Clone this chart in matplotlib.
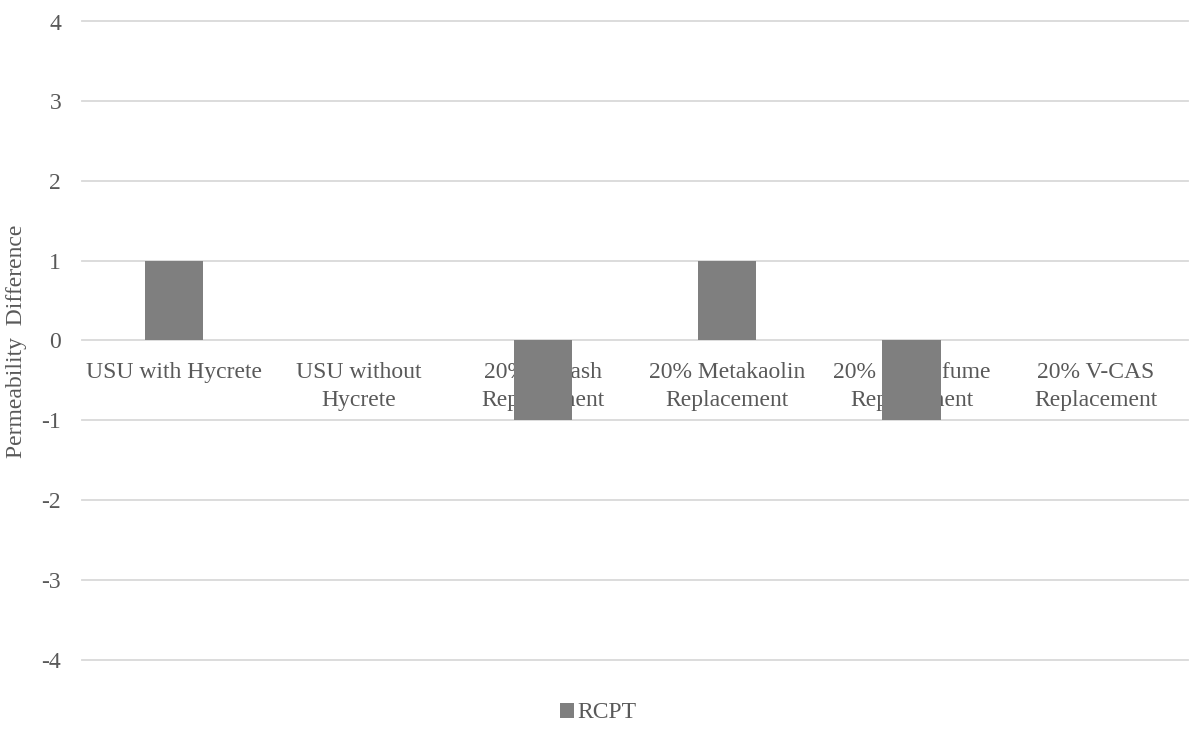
import matplotlib
matplotlib.use("Agg")
import matplotlib.pyplot as plt
import numpy as np

categories = ["USU with Hycrete", "USU without\nHycrete", "20% Fly ash\nReplacement",
              "20% Metakaolin\nReplacement", "20% Silica fume\nReplacement", "20% V-CAS\nReplacement"]
rcpt = [1, 0, -1, 1, -1, 0]
yticks = [-4, -3, -2, -1, 0, 1, 2, 3, 4]

plt.rcParams['font.family'] = ['Liberation Serif', 'DejaVu Serif']
txt = '#595959'
fs = 17

fig = plt.figure(figsize=(11.91, 7.40), dpi=100)
W, H = 1191, 740
ax = fig.add_axes([82 / W, 1 - 659.5 / H, (1188 - 82) / W, (659.5 - 21.5) / H])

x = np.arange(len(categories))
ax.bar(x, rcpt, width=0.315, color='#7F7F7F', zorder=3, label='RCPT')

ax.set_xlim(-0.5, len(categories) - 0.5)
ax.set_ylim(-4, 4)
ax.set_yticks(yticks)
ax.set_yticklabels([str(v) for v in yticks], fontsize=fs, color=txt)
ax.yaxis.grid(True, color='#D9D9D9', linewidth=1.3, zorder=0)
for gl in ax.get_ygridlines():
    gl.set_clip_on(False)
ax.set_axisbelow(True)
ax.tick_params(axis='y', length=0, pad=15)
ax.set_xticks([])
for s in ax.spines.values():
    s.set_visible(False)

for xi, lab in zip(x, categories):
    ax.text(xi, -0.27, lab, ha='center', va='top', fontsize=fs, color=txt,
            linespacing=1.42, zorder=1)

fig.text(17 / W, 1 - 341 / H, "Permeability  Difference", rotation=90, ha='center', va='center',
         fontsize=fs, color=txt)

leg = fig.legend(loc='center', bbox_to_anchor=(598 / W, 1 - 713 / H), frameon=False,
                 fontsize=fs, handlelength=0.6, handleheight=0.6, handletextpad=0.15)
for t in leg.get_texts():
    t.set_color(txt)

fig.savefig("out.png", dpi=100)
